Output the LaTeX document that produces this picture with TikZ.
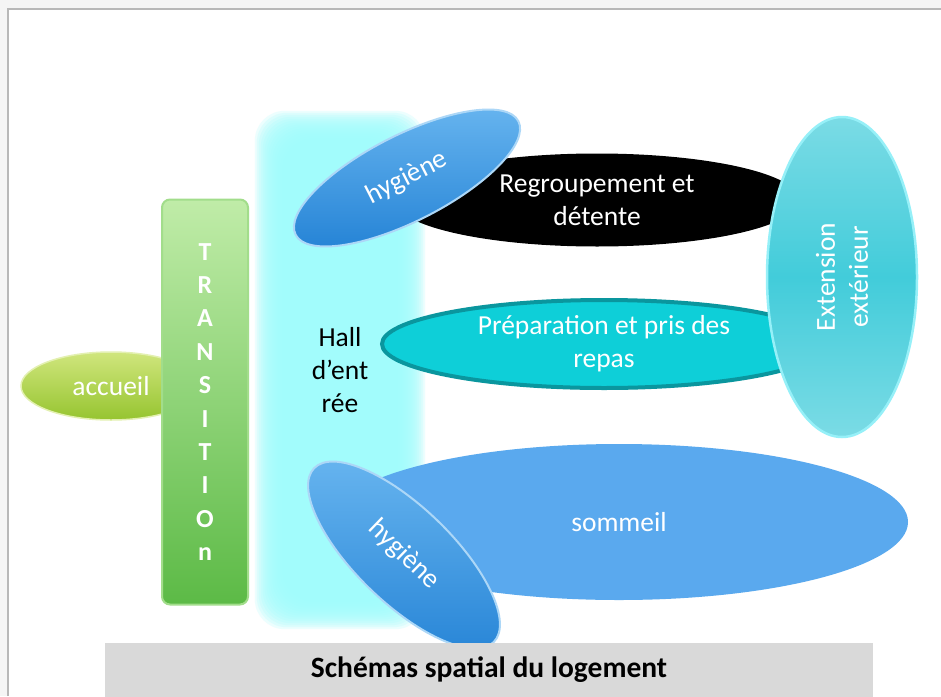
\documentclass[tikz,border=0pt]{standalone}
\usepackage{fontspec}
\setmainfont{Carlito}
\usetikzlibrary{positioning,shapes.geometric,backgrounds}
\definecolor{colHall}{RGB}{160,252,252}
\definecolor{colTrA}{RGB}{192,236,168}
\definecolor{colTrB}{RGB}{92,186,70}
\definecolor{colAcA}{RGB}{208,230,125}
\definecolor{colAcB}{RGB}{150,196,48}
\definecolor{colHyA}{RGB}{105,182,240}
\definecolor{colHyB}{RGB}{38,132,214}
\definecolor{colPrep}{RGB}{14,207,216}
\definecolor{colPrepE}{RGB}{10,150,158}
\definecolor{colExt}{RGB}{66,204,218}
\definecolor{colExtE}{RGB}{150,240,248}
\definecolor{colSom}{RGB}{90,169,238}
\definecolor{colBar}{RGB}{217,217,217}

\begin{document}
\begin{tikzpicture}[x=1pt,y=-1pt,
  zone/.style={
    ellipse, inner sep=0pt, align=center,
    text=white, font=\fontsize{27.5}{33}\selectfont
  },
  hyg/.style={zone, top color=colHyA, bottom color=colHyB,
    draw=colHyA!55!white, line width=2pt,
    minimum width=250pt, minimum height=86pt},
  lbl/.style={font=\fontsize{27.5}{33}\selectfont, align=center}
]
\useasboundingbox (0,0) rectangle (941,696);
% Frame
\begin{scope}[on background layer]
  \fill[black!4] (0,0) rectangle (941,696);
  \fill[white] (8,9) rectangle (941,696);
  \draw[black!28, line width=1.2pt] (8,696) -- (8,9) -- (941,9);
\end{scope}

% Hall
\node[minimum width=146pt, minimum height=494pt, lbl] (hall) at (340,370)
  {Hall\\d’ent\\rée};
\begin{scope}[on background layer]
  \foreach \g in {-16,-14,...,12}
    \fill[colHall, opacity=0.2, rounded corners=30pt]
      ([shift={(-\g pt,\g pt)}]hall.north west)
      rectangle ([shift={(\g pt,-\g pt)}]hall.south east);
\end{scope}

% Entrance
\node[zone, top color=colAcA, bottom color=colAcB,
  draw=colAcA!60!white, line width=1.5pt,
  minimum width=180pt, minimum height=68pt] (acc) at (111,386) {accueil};
\node[rounded corners=8pt, top color=colTrA, bottom color=colTrB,
  draw=colTrA!70!colTrB, line width=2pt,
  minimum width=86pt, minimum height=405pt, text=white, align=center,
  font=\fontsize{26}{33.4}\selectfont\bfseries] (trans) at (205,402)
  {T\\R\\A\\N\\S\\I\\T\\I\\O\\n};

% Day zones
\node[zone, fill=black, minimum width=405pt, minimum height=93pt]
  (det) at (597,200) {Regroupement et\\détente};
\node[hyg, rotate=27] (hyg1) at (407,178) {hygiène};
\node[zone, fill=colPrep, draw=colPrepE, line width=4pt,
  minimum width=444pt, minimum height=88pt]
  (rep) at (604,344) {Préparation et pris des\\repas};
\node[zone, top color=colExt!70!white, bottom color=colExt!70!white,
  middle color=colExt, draw=colExtE, line width=2.5pt,
  minimum width=320pt, minimum height=150pt, rotate=90]
  (ext) at (842,277) {Extension\\extérieur};

% Night zone
\node[zone, fill=colSom, minimum width=578pt, minimum height=156pt]
  (som) at (619,522) {sommeil};
\node[hyg, rotate=-44, minimum height=96pt] (hyg2) at (404,555) {hygiène};

% Caption
\node[fill=colBar, minimum width=768pt, minimum height=54pt,
  font=\fontsize{29.5}{32}\selectfont\bfseries] (cap) at (489,670)
  {Schémas spatial du logement};
\end{tikzpicture}
\end{document}
